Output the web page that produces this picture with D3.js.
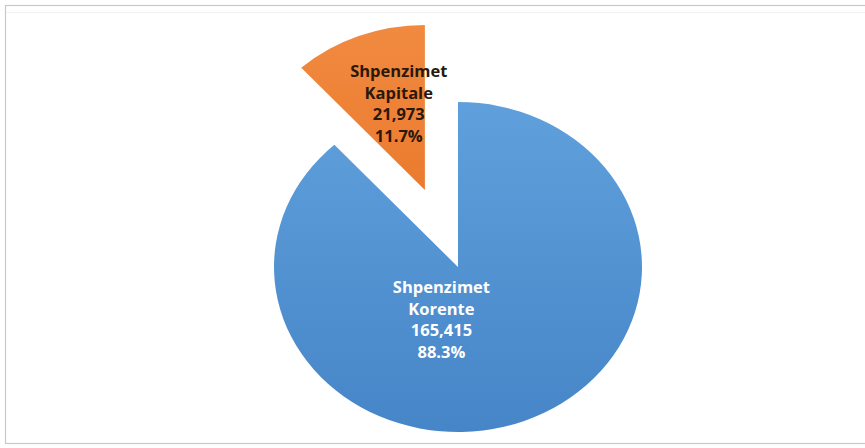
<!DOCTYPE html>
<html>
<head>
<meta charset="utf-8">
<script src="https://cdn.jsdelivr.net/npm/d3@7"></script>
<style>
  html, body { margin: 0; padding: 0; background: #ffffff; }
  svg { display: block; }
</style>
</head>
<body>
<svg id="chart" width="865" height="448"></svg>
<script>
// ---- data ----
const categories = ["Shpenzimet Korente", "Shpenzimet Kapitale"];
const labelLines = [["Shpenzimet", "Korente"], ["Shpenzimet", "Kapitale"]];
const values = [165415, 21973];
const valueLabels = ["165,415", "21,973"];
const percentLabels = ["88.3%", "11.7%"];

// ---- layout ----
const W = 865, H = 448;
const cx = 458, cy = 267;      // pie centre
const rx = 184, ry = 165;      // ellipse radii (chart is stretched)
const R = 100;                 // unit radius used before scaling
const sx = rx / R, sy = ry / R;

const svg = d3.select("#chart");
const defs = svg.append("defs");

// gradients
const gBlue = defs.append("linearGradient").attr("id", "gBlue")
  .attr("gradientUnits", "userSpaceOnUse")
  .attr("x1", 0).attr("y1", -R).attr("x2", 0).attr("y2", R);
gBlue.append("stop").attr("offset", "0%").attr("stop-color", "#5fa0dc");
gBlue.append("stop").attr("offset", "100%").attr("stop-color", "#4685c7");

const gOrange = defs.append("linearGradient").attr("id", "gOrange")
  .attr("gradientUnits", "userSpaceOnUse")
  .attr("x1", 0).attr("y1", -R).attr("x2", 0).attr("y2", R);
gOrange.append("stop").attr("offset", "0%").attr("stop-color", "#f18a40");
gOrange.append("stop").attr("offset", "100%").attr("stop-color", "#e46c1c");

const fills = ["url(#gBlue)", "url(#gOrange)"];
const textColors = ["#ffffff", "#2a180c"];

// frame
svg.append("rect")
  .attr("x", 5.5).attr("y", 5.5)
  .attr("width", W).attr("height", 438)
  .attr("fill", "#ffffff")
  .attr("stroke", "#c9c9c9").attr("stroke-width", 1.2);
svg.append("line").attr("x1", 6).attr("x2", W).attr("y1", 12.5).attr("y2", 12.5)
  .attr("stroke", "#f1f1f1").attr("stroke-width", 1);

// pie
const pie = d3.pie().sort(null).value(d => d)
  .startAngle(0).endAngle(2 * Math.PI);
const arcs = pie(values);
const arc = d3.arc().innerRadius(0).outerRadius(R);
const explode = [0, 0.5];           // fraction of radius the slice is pulled out
const labelArc = [null, d3.arc().innerRadius(56).outerRadius(56)];
const labelShiftX = [0, 11];

const root = svg.append("g").attr("transform", `translate(${cx},${cy})`);

arcs.forEach((d, i) => {
  const mid = (d.startAngle + d.endAngle) / 2;
  const ox = Math.sin(mid) * explode[i] * R;
  const oy = -Math.cos(mid) * explode[i] * R;
  const g = root.append("g")
    .attr("transform", `scale(${sx},${sy}) translate(${ox},${oy})`);
  g.append("path").attr("d", arc(d)).attr("fill", fills[i]);

  // label position (unit coords, before scaling)
  let lx, ly;
  if (labelArc[i]) {
    const c = labelArc[i].centroid(d);
    lx = ox + c[0]; ly = oy + c[1];
  } else {
    lx = -9; ly = 32;
  }
  const px = cx + lx * sx + labelShiftX[i];
  const py = cy + ly * sy;
  const lines = [...labelLines[i], valueLabels[i], percentLabels[i]];
  const lh = 21.6;
  const t = svg.append("text")
    .attr("text-anchor", "middle")
    .attr("font-family", "'Open Sans', sans-serif")
    .attr("font-weight", "bold")
    .attr("font-size", 16.5)
    .attr("fill", textColors[i]);
  lines.forEach((s, k) => {
    t.append("tspan")
      .attr("x", px)
      .attr("y", py + (k - (lines.length - 1) / 2) * lh)
      .attr("dy", "0.35em")
      .text(s);
  });
});
</script>
</body>
</html>
